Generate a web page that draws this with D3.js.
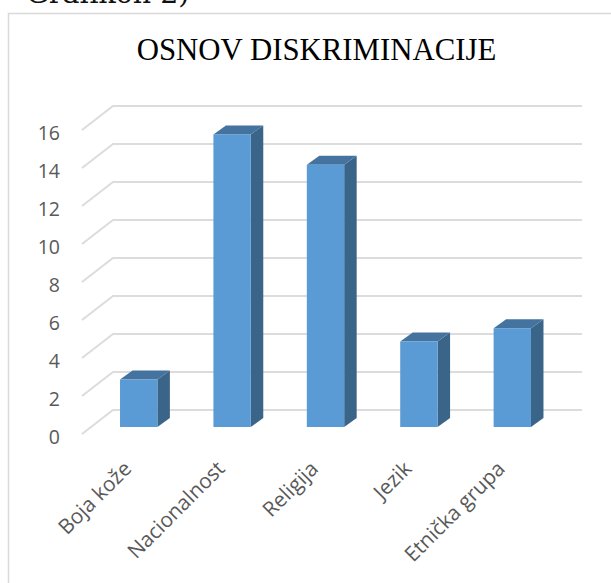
<!DOCTYPE html>
<html>
<head>
<meta charset="utf-8">
<script src="https://cdn.jsdelivr.net/npm/d3@7"></script>
<style>
html, body { margin: 0; padding: 0; background: #fff; overflow: hidden; }
</style>
</head>
<body>
<script>
var w = 611;
var h = 583;

var categories = ["Boja kože", "Nacionalnost", "Religija", "Jezik", "Etnička grupa"];
var values = [2.5, 15.4, 13.8, 4.5, 5.2];
var yTicks = [0, 2, 4, 6, 8, 10, 12, 14, 16];

var depthX = 12.5;
var depthY = -9;
var sideX = 31;
var sideY = -24;

var svg = d3.select("body").append("svg")
    .attr("width", w)
    .attr("height", h)
    .style("display", "block");

// text above the chart, cut off by the top edge
svg.append("text")
    .attr("x", 26)
    .attr("y", 3)
    .style("font-family", "'DejaVu Serif'")
    .style("font-size", "28.5px")
    .attr("fill", "#111")
    .text("Grafikon 2)");

// chart frame
svg.append("rect")
    .attr("x", 8.5)
    .attr("y", 13.5)
    .attr("width", 640)
    .attr("height", 600)
    .attr("fill", "#fff")
    .attr("stroke", "#d9d9d9")
    .attr("stroke-width", 1.5);

svg.append("text")
    .attr("x", 316.5)
    .attr("y", 60)
    .attr("text-anchor", "middle")
    .style("font-family", "'Liberation Serif'")
    .style("font-size", "30.8px")
    .attr("fill", "#000")
    .text("OSNOV DISKRIMINACIJE");

// y is measured on the back wall, bars stand on the front floor edge
var y = d3.scaleLinear().domain([0, 16]).range([410, 106]);
var frontBase = 427;

var x = d3.scaleBand()
    .domain(categories)
    .range([92, 559])
    .paddingInner(0.6)
    .paddingOuter(0.3);

var grid = svg.append("g").attr("id", "grid");

grid.selectAll("path")
    .data(yTicks)
    .enter()
    .append("path")
    .attr("d", function(d) {
        var yy = y(d);
        return d3.line()([[113 + sideX * -1, yy - sideY], [113, yy], [582, yy]]);
    })
    .attr("fill", "none")
    .attr("stroke", "#dcdcdc")
    .attr("stroke-width", 2);

var yAxis = d3.axisLeft(y).tickValues(yTicks).tickSize(0).tickPadding(0);

var yAxisGroup = svg.append("g")
    .attr("transform", "translate(60," + (-sideY + 3.5) + ")")
    .call(yAxis);

yAxisGroup.select(".domain").remove();

yAxisGroup.selectAll("text")
    .style("font-family", "'Open Sans'")
    .style("font-size", "19.5px")
    .attr("fill", "#595959");

var bars = svg.selectAll("g.bar")
    .data(categories)
    .enter()
    .append("g")
    .attr("class", "bar");

function barTop(i) {
    return frontBase - (y(0) - y(values[i]));
}

// right side face
bars.append("path")
    .attr("d", function(d, i) {
        var x1 = x(d) + x.bandwidth();
        var t = barTop(i);
        return "M" + x1 + "," + t + "L" + (x1 + depthX) + "," + (t + depthY) +
            "L" + (x1 + depthX) + "," + (frontBase + depthY) + "L" + x1 + "," + frontBase + "Z";
    })
    .attr("fill", "#3a6589");

// top face
bars.append("path")
    .attr("d", function(d, i) {
        var x0 = x(d);
        var x1 = x0 + x.bandwidth();
        var t = barTop(i);
        return "M" + x0 + "," + t + "L" + (x0 + depthX) + "," + (t + depthY) +
            "L" + (x1 + depthX) + "," + (t + depthY) + "L" + x1 + "," + t + "Z";
    })
    .attr("fill", "#44739f");

// front face
bars.append("rect")
    .attr("x", function(d) { return x(d); })
    .attr("y", function(d, i) { return barTop(i); })
    .attr("width", x.bandwidth())
    .attr("height", function(d, i) { return frontBase - barTop(i); })
    .attr("fill", "#5b9bd5");

var xAxis = d3.axisBottom(x).tickSize(0).tickPadding(0);

var xAxisGroup = svg.append("g")
    .attr("transform", "translate(0," + frontBase + ")")
    .call(xAxis);

xAxisGroup.select(".domain").remove();

xAxisGroup.selectAll("text")
    .attr("text-anchor", "end")
    .attr("dy", null)
    .attr("y", 0)
    .attr("transform", "translate(-6,43) rotate(-45)")
    .style("font-family", "'Open Sans'")
    .style("font-size", "20.8px")
    .attr("fill", "#595959");
</script>
</body>
</html>
